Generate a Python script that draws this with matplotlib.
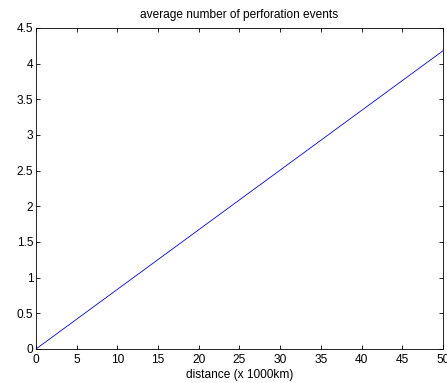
import matplotlib
matplotlib.use("Agg")
import matplotlib.pyplot as plt

plt.rcParams["font.family"] = "Liberation Sans"
plt.rcParams["font.size"] = 8.6

# data
distance = [0, 50]          # x 1000 km
avg_events = [0, 4.18]

xticks = list(range(0, 55, 5))
yticks = [0, 0.5, 1, 1.5, 2, 2.5, 3, 3.5, 4, 4.5]

fig = plt.figure(figsize=(4.47, 3.83), dpi=100)
ax = fig.add_axes([0.0805, 0.0888, 0.9105, 0.8382])

ax.plot(distance, avg_events, color="blue", linewidth=0.6)

ax.set_xlim(0, 50)
ax.set_ylim(0, 4.5)
ax.set_xticks(xticks)
ax.set_yticks(yticks)
ax.set_yticklabels([f"{v:g}" for v in yticks])
ax.tick_params(direction="in", top=True, right=True, length=3, width=0.6, pad=2)
ax.tick_params(axis="x", pad=3.5)
for s in ax.spines.values():
    s.set_linewidth(0.6)

ax.set_xlabel("distance (x 1000km)", labelpad=2)
ax.set_title("average number of perforation events", fontsize=8.6, pad=7)

fig.savefig("out.png", dpi=100)
